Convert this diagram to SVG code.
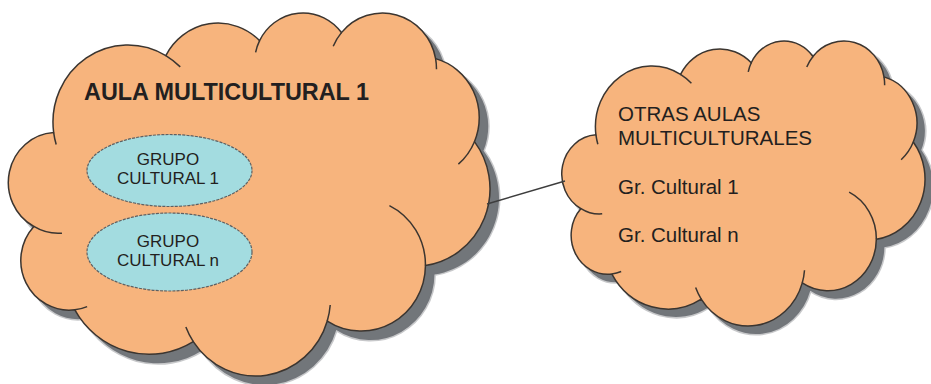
<svg xmlns="http://www.w3.org/2000/svg" xmlns:xlink="http://www.w3.org/1999/xlink" width="931" height="384" viewBox="0 0 931 384">
  <style>
    .cloud { fill: #F7B47D; stroke: #3b3530; stroke-width: 1.5; }
    .ticks { fill: none; stroke: #3b3530; stroke-width: 1.5; }
    .shadow { fill: #72767a; stroke: #72767a; stroke-opacity: 0.4; stroke-width: 3; }
    .group { fill: #A3DCE0; stroke: #5d6063; stroke-width: 1.2; stroke-dasharray: 3 1.2; }
    .title { font-family: "Liberation Sans", Arial, sans-serif; font-weight: bold; font-size: 23.4px; fill: #231f20; }
    .label { font-family: "Liberation Sans", Arial, sans-serif; font-size: 17px; fill: #231f20; text-anchor: middle; }
    .note { font-family: "Liberation Sans", Arial, sans-serif; font-size: 20.5px; fill: #231f20; }
    .link { stroke: #3d3d3d; stroke-width: 1.5; fill: none; }
  </style>
  <defs>
    <!-- cloud outline in a 43200 x 43200 unit box -->
    <path id="cloud-outline" vector-effect="non-scaling-stroke" d="M3900,14370 A6753,9190 0 0 1 14006,5203 A5333,7267 0 0 1 22457,3431 A4365,5945 0 0 1 29833,2478 A4857,6595 0 0 1 38318,5573 A5333,7273 0 0 1 41819,15457 A6775,9220 0 0 1 37404,30199 A5785,7867 0 0 1 28555,36809 A6752,9215 0 0 1 16481,39261 A7720,10543 0 0 1 5807,35470 A4360,5918 0 0 1 2114,25550 A4345,5945 0 0 1 3900,14370 Z"/>
    <!-- inner arc ends where neighbouring puffs overlap -->
    <path id="cloud-ticks" vector-effect="non-scaling-stroke" d="M4647,26347 A4345,5945 0 0 1 2114,25550 M6916,35089 A4360,5918 0 0 1 5807,35470 M16481,39261 A6752,9215 0 0 1 15812,37520 M28822,34900 A6752,9215 0 0 1 28555,36809 M34154,23064 A5785,7867 0 0 1 37404,30199 M41819,15457 A5333,7273 0 0 1 40370,18133 M38318,5573 A4857,6595 0 0 1 38395,6837 M29091,4091 A4857,6595 0 0 1 29833,2478 M22098,4820 A4365,5945 0 0 1 22457,3431 M14006,5203 A6753,9190 0 0 1 15307,6553 M4127,15789 A6753,9190 0 0 1 3900,14370"/>
  </defs>

  <!-- main classroom cloud -->
  <g id="aula-1">
    <use xlink:href="#cloud-outline" class="shadow" transform="translate(19.39,20.83) scale(0.011097,0.0084)"/>
    <use xlink:href="#cloud-outline" class="cloud" transform="translate(10.39,11.83) scale(0.011097,0.0084)"/>
    <use xlink:href="#cloud-ticks" class="ticks" transform="translate(10.39,11.83) scale(0.011097,0.0084)"/>
    <text class="title" x="84" y="100">AULA MULTICULTURAL 1</text>
  </g>

  <g id="grupo-1">
    <ellipse class="group" cx="169.5" cy="170.5" rx="82.5" ry="36"/>
    <text class="label" x="168" y="164.5">GRUPO</text>
    <text class="label" x="168" y="183.5">CULTURAL 1</text>
  </g>

  <g id="grupo-n">
    <ellipse class="group" cx="169.5" cy="252" rx="82.5" ry="39"/>
    <text class="label" x="168" y="246.5">GRUPO</text>
    <text class="label" x="168" y="265.5">CULTURAL n</text>
  </g>

  <!-- other classrooms cloud -->
  <g id="otras-aulas">
    <use xlink:href="#cloud-outline" class="shadow" transform="translate(571.3,48.1) scale(0.008369,0.006595)"/>
    <use xlink:href="#cloud-outline" class="cloud" transform="translate(563.3,40.1) scale(0.008369,0.006595)"/>
    <use xlink:href="#cloud-ticks" class="ticks" transform="translate(563.3,40.1) scale(0.008369,0.006595)"/>
    <text class="note" x="618" y="121">OTRAS AULAS</text>
    <text class="note" x="618" y="145">MULTICULTURALES</text>
    <text class="note" x="618" y="194">Gr. Cultural 1</text>
    <text class="note" x="618" y="242">Gr. Cultural n</text>
  </g>

  <!-- connectors -->
  <g id="connectors">
    <line class="link" x1="487" y1="204" x2="565" y2="181"/>
  </g>
</svg>
